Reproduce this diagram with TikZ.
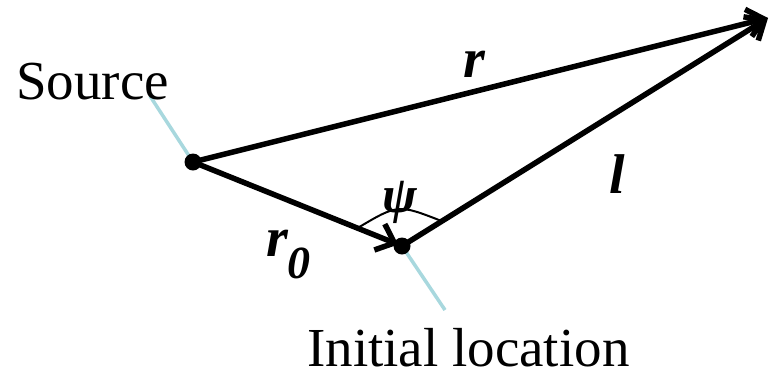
\documentclass[tikz,border=0pt]{standalone}
\usepackage{fontspec}
\setmainfont{Liberation Serif}
\usetikzlibrary{arrows.meta,calc}
\definecolor{leader}{RGB}{168,216,222}
\tikzset{
  vec/.style={line width=5.5pt, line cap=round},
  tipstyle/.style={-{Straight Barb[length=16pt,width=28pt,line width=5.5pt]}},
  leaderline/.style={leader, line width=3.5pt},
  dot/.style={circle, fill=black, inner sep=0pt, minimum size=17pt},
  lbl/.style={font=\fontsize{55}{60}\selectfont, inner sep=0pt},
  sym/.style={font=\fontsize{56}{60}\selectfont\bfseries\itshape, inner sep=0pt},
}
\begin{document}
\begin{tikzpicture}[x=1pt,y=-1pt]
\useasboundingbox (0,0) rectangle (771,376);
\coordinate (S) at (193,162);
\coordinate (P) at (402,246);
\coordinate (T) at (768,18);
\coordinate (SL) at (150,96);
\coordinate (PL) at (445,310);
\draw[leaderline] (S) -- (SL);
\draw[leaderline] (P) -- (PL);
\draw[vec,tipstyle] (S) -- (T);
\draw[vec,tipstyle] (P) -- (T);
\draw[vec,tipstyle,shorten >=4pt] (S) -- (P);
\coordinate (A1) at ($(P)!48pt!(S)$);
\coordinate (A2) at ($(P)!47pt!(T)$);
\draw[line width=2pt] (A1) .. controls ($(P)+(-4,-42)$) .. (A2);
\node[dot] (sd) at (S) {};
\node[dot] (pd) at (P) {};
\node[lbl, anchor=base west] (src) at (16,99) {Source};
\node[lbl, anchor=base west] (init) at (307,366) {Initial location};
\node[sym, anchor=base west] (rl) at (463,77) {r};
\node[sym, anchor=base west] (ll) at (609,193) {l};
\node[sym, anchor=base west] (r0) at (266,256) {r\raisebox{-22pt}{\fontsize{46}{46}\selectfont 0}};
\node[sym, font=\fontsize{52}{56}\selectfont\bfseries\itshape, anchor=base] (psi) at (400,212) {ψ};
\end{tikzpicture}
\end{document}
